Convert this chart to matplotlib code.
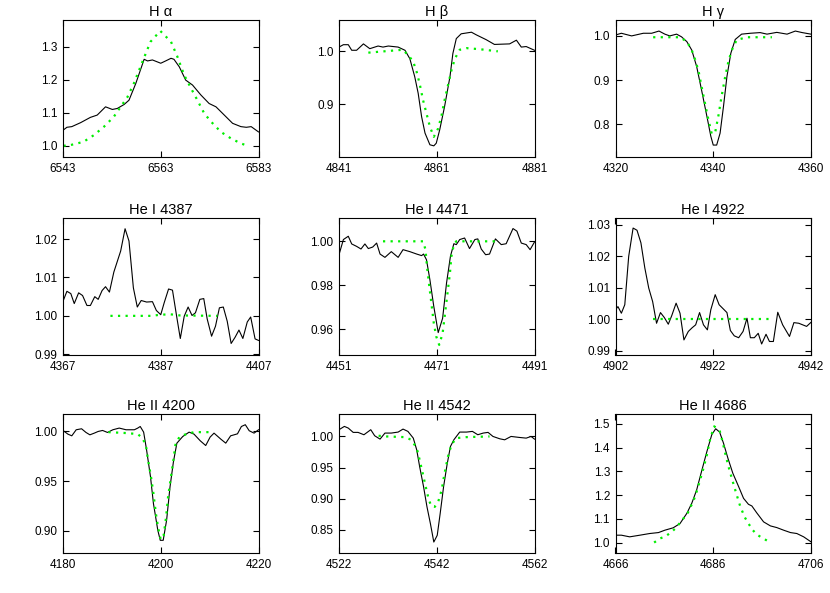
import matplotlib
matplotlib.use('Agg')
import matplotlib.pyplot as plt

plt.rcParams['font.family'] = ['Liberation Sans', 'DejaVu Sans']

ha_w = [6543.0, 6543.8, 6544.8, 6546.6, 6548.6, 6550.0, 6551.7, 6553.1, 6554.1, 6555.5, 6556.5, 6557.9,
        6559.6, 6560.3, 6561.3, 6563.0, 6564.0, 6565.1, 6565.7, 6566.8, 6568.1, 6569.5, 6571.2, 6572.9,
        6574.3, 6576.0, 6577.7, 6579.4, 6580.5, 6581.5, 6583.0]
ha_f = [1.047, 1.056, 1.058, 1.070, 1.086, 1.093, 1.118, 1.110, 1.113, 1.125, 1.138, 1.189,
        1.262, 1.257, 1.260, 1.250, 1.257, 1.265, 1.262, 1.239, 1.199, 1.184, 1.154, 1.128,
        1.118, 1.093, 1.068, 1.058, 1.056, 1.058, 1.042]
ha_mw = [6543.1, 6544.5, 6547.2, 6549.3, 6551.4, 6553.4, 6554.8, 6556.2, 6557.5, 6559.4, 6560.9, 6562.9,
         6565.1, 6566.4, 6567.8, 6569.2, 6570.5, 6571.9, 6573.3, 6575.3, 6577.4, 6579.4, 6580.8]
ha_mf = [1.0, 1.002, 1.012, 1.032, 1.058, 1.088, 1.118, 1.148, 1.189, 1.26, 1.315, 1.348,
         1.315, 1.27, 1.214, 1.174, 1.138, 1.098, 1.073, 1.042, 1.022, 1.007, 1.0]

hb_w = [4841.0, 4841.9, 4842.9, 4843.6, 4844.6, 4846.0, 4847.3, 4849.0, 4850.0, 4851.1, 4853.1, 4854.5,
        4855.5, 4856.5, 4857.2, 4857.9, 4858.6, 4859.6, 4860.4, 4860.9, 4861.6, 4862.6, 4863.7, 4864.3,
        4865.0, 4866.0, 4868.1, 4869.1, 4871.1, 4872.8, 4875.9, 4877.3, 4878.3, 4879.3, 4881.0]
hb_f = [1.008, 1.0125, 1.0125, 1.002, 1.002, 1.014, 1.005, 1.010, 1.008, 1.010, 1.008, 1.002,
        0.986, 0.952, 0.921, 0.877, 0.846, 0.824, 0.822, 0.827, 0.852, 0.896, 0.952, 0.996,
        1.024, 1.033, 1.036, 1.031, 1.022, 1.013, 1.014, 1.021, 1.008, 1.009, 1.002]
hb_mw = [4847.0, 4854.1, 4855.5, 4856.2, 4856.9, 4857.5, 4858.2, 4858.9, 4859.6, 4860.4, 4861.3, 4862.0,
         4862.6, 4863.3, 4864.0, 4864.7, 4865.7, 4867.1, 4869.8, 4873.5]
hb_mf = [0.9975, 1.003, 0.989, 0.98, 0.961, 0.939, 0.908, 0.883, 0.858, 0.839, 0.855, 0.88,
         0.908, 0.936, 0.964, 0.986, 1.003, 1.006, 1.004, 1.0]

hg_w = [4320.0, 4321.2, 4323.3, 4325.7, 4327.4, 4328.9, 4330.1, 4331.1, 4332.5, 4333.5, 4334.6, 4335.6,
        4336.6, 4337.6, 4338.7, 4339.5, 4340.0, 4340.7, 4341.4, 4342.1, 4342.8, 4343.6, 4344.5, 4345.8,
        4347.6, 4349.6, 4351.0, 4353.0, 4355.1, 4356.8, 4358.2, 4360.0]
hg_f = [1.002, 1.006, 1.0, 1.006, 1.006, 1.011, 1.004, 1.0, 1.004, 0.998, 0.987, 0.968,
        0.931, 0.878, 0.818, 0.773, 0.753, 0.753, 0.780, 0.841, 0.908, 0.961, 0.992, 1.004,
        1.006, 1.0075, 1.004, 1.008, 1.004, 1.011, 1.0075, 1.004]
hg_mw = [4327.7, 4333.2, 4334.6, 4335.6, 4336.3, 4337.0, 4337.6, 4338.3, 4339.0, 4339.7, 4340.4, 4341.1,
         4341.7, 4342.4, 4343.1, 4343.8, 4344.8, 4346.9, 4352.0]
hg_mf = [0.997, 0.997, 0.987, 0.968, 0.946, 0.92, 0.886, 0.848, 0.811, 0.778, 0.782, 0.822,
         0.863, 0.905, 0.942, 0.968, 0.991, 0.997, 0.997]

he4387_w = [4367.0, 4367.8, 4368.6, 4369.3, 4370.2, 4371.0, 4371.9, 4372.6, 4373.5, 4374.2,
            4375.0, 4375.7, 4376.5, 4377.4, 4378.8, 4379.7, 4380.5, 4381.4, 4382.2, 4383.0,
            4384.1, 4385.3, 4386.1, 4387.0, 4387.7, 4388.6, 4389.4, 4390.3, 4391.0, 4391.8,
            4392.6, 4393.4, 4394.1, 4395.0, 4395.8, 4396.5, 4397.4, 4398.2, 4399.0, 4399.8,
            4400.6, 4401.4, 4402.2, 4403.0, 4403.8, 4404.7, 4405.4, 4406.3, 4407.0]
he4387_f = [1.0038, 1.0064, 1.0058, 1.0032, 1.006, 1.0053, 1.0027, 1.0027, 1.005, 1.0043,
            1.0066, 1.0076, 1.0062, 1.0114, 1.0169, 1.0227, 1.0195, 1.0073, 1.0023, 1.004,
            1.0036, 1.0037, 1.0014, 1.0003, 1.0034, 1.007, 1.0067, 0.9995, 0.9941, 0.9999,
            1.0023, 1.0001, 1.0008, 1.0043, 1.0045, 0.9992, 0.9947, 0.9973, 1.0021, 1.0023,
            0.9986, 0.9928, 0.9944, 0.9963, 0.9941, 0.9984, 0.9997, 0.994, 0.9936]
he4387_mw = [4376.7, 4385.0, 4387.0, 4389.0, 4391.0, 4398.6]
he4387_mf = [1.0, 1.0, 1.0003, 1.0004, 1.0001, 1.0]

he4471_w = [4451.0, 4451.9, 4452.9, 4453.6, 4454.6, 4455.5, 4456.3, 4457.0, 4457.9, 4458.7,
            4459.4, 4460.4, 4461.7, 4463.1, 4464.1, 4465.5, 4466.9, 4467.9, 4468.3, 4468.9,
            4469.6, 4470.4, 4471.3, 4472.2, 4473.0, 4473.8, 4474.5, 4475.0, 4475.7, 4476.7,
            4477.7, 4478.8, 4479.4, 4480.1, 4481.0, 4481.8, 4483.0, 4484.2, 4485.2, 4486.6,
            4487.4, 4488.3, 4489.3, 4490.1, 4491.0]
he4471_f = [0.9939, 1.0008, 1.0023, 0.9988, 0.9977, 0.9965, 0.9988, 0.9967, 0.9974, 0.9992,
            0.9942, 0.9927, 0.9953, 0.9927, 0.9962, 0.9953, 0.9942, 0.9935, 0.9942, 0.9916,
            0.9825, 0.9703, 0.9585, 0.965, 0.981, 0.9932, 0.9989, 0.9985, 1.0008, 1.0015,
            0.9967, 1.0008, 1.0011, 0.9965, 0.9939, 0.9942, 1.0011, 0.9985, 0.9989, 1.0058,
            1.0046, 0.9992, 0.9985, 0.9962, 0.9997]
he4471_mw = [4460.0, 4468.2, 4468.7, 4469.0, 4469.4, 4469.9, 4470.4, 4470.9, 4471.5, 4472.2,
             4472.7, 4473.2, 4473.7, 4474.0, 4474.5, 4475.0, 4483.2]
he4471_mf = [1.0, 1.0, 0.9962, 0.9886, 0.981, 0.9719, 0.9627, 0.9567, 0.9529, 0.9582,
             0.9673, 0.9764, 0.9856, 0.9932, 0.9985, 1.0, 1.0]

he4922_w = [4902.0, 4902.5, 4903.2, 4903.9, 4904.7, 4905.6, 4906.4, 4907.2, 4908.0, 4908.8,
            4909.6, 4910.4, 4911.2, 4912.0, 4912.8, 4913.5, 4914.4, 4915.2, 4916.0, 4916.9,
            4917.7, 4918.4, 4919.2, 4920.0, 4920.8, 4921.5, 4922.4, 4923.2, 4924.1, 4924.8,
            4925.5, 4926.3, 4927.2, 4928.1, 4928.9, 4929.6, 4930.4, 4931.2, 4931.9, 4932.8,
            4933.5, 4934.3, 4935.2, 4936.2, 4937.6, 4938.5, 4939.5, 4941.1, 4942.0]
he4922_f = [1.003, 1.004, 1.0019, 1.0046, 1.02, 1.029, 1.0283, 1.0243, 1.0163, 1.0099,
            1.0056, 0.9987, 1.0021, 1.0005, 0.9984, 1.0011, 1.0051, 1.0019, 0.9934, 0.9961,
            0.9973, 0.9982, 1.0021, 0.9982, 0.9966, 1.003, 1.0078, 1.0046, 1.0032, 1.0021,
            0.9964, 0.9947, 0.9941, 0.9961, 1.0003, 0.9941, 0.9941, 0.9955, 0.9921, 0.9952,
            0.9929, 0.9929, 1.0022, 0.9982, 0.9945, 0.9989, 0.9987, 0.9977, 0.999]
he4922_mw = [4909.6, 4934.0]
he4922_mf = [1.0, 1.0]

he4200_w = [4180.0, 4181.0, 4181.8, 4182.7, 4183.8, 4184.7, 4185.5, 4186.4, 4187.2, 4188.1,
            4189.1, 4190.2, 4191.5, 4192.9, 4194.6, 4195.3, 4195.8, 4196.5, 4197.1, 4197.9,
            4198.5, 4199.4, 4199.9, 4200.5, 4201.2, 4201.9, 4202.6, 4203.3, 4204.5, 4205.8,
            4206.8, 4208.1, 4209.2, 4210.1, 4210.9, 4212.3, 4213.3, 4214.3, 4215.7, 4216.5,
            4217.3, 4218.1, 4219.1, 4220.0]
he4200_f = [1.001, 0.9973, 0.9956, 1.0017, 1.0027, 0.999, 0.9966, 0.9983, 1.0, 1.001,
            0.999, 1.0017, 1.0034, 1.0017, 1.0017, 1.0034, 1.005, 0.9993, 0.9814, 0.9544,
            0.9274, 0.9003, 0.8902, 0.8902, 0.9105, 0.9443, 0.9696, 0.9882, 0.9949, 0.9993,
            0.9973, 0.9905, 0.9858, 0.9943, 0.9983, 0.9922, 0.9882, 0.9956, 0.9976, 1.005,
            1.0068, 1.0007, 0.9983, 1.0017]
he4200_mw = [4189.3, 4193.2, 4195.3, 4196.3, 4197.0, 4197.4, 4198.0, 4198.5, 4199.0, 4199.5,
             4200.0, 4200.6, 4201.1, 4201.5, 4202.1, 4202.6, 4203.0, 4203.8, 4204.8, 4206.8, 4210.6]
he4200_mf = [0.9993, 0.9983, 0.9973, 0.9932, 0.9848, 0.9713, 0.9544, 0.9375, 0.9172, 0.902,
             0.8909, 0.8953, 0.9139, 0.9341, 0.9544, 0.9713, 0.9865, 0.9943, 0.9966, 0.9993, 0.9993]

he4542_w = [4522.0, 4523.1, 4523.9, 4524.9, 4525.9, 4527.1, 4528.5, 4529.3, 4530.4, 4531.4,
            4532.7, 4534.1, 4535.1, 4536.1, 4537.2, 4537.9, 4538.5, 4539.3, 4540.0, 4540.7,
            4541.4, 4542.1, 4542.7, 4543.4, 4544.1, 4544.8, 4545.5, 4546.7, 4548.1, 4549.3,
            4550.4, 4551.5, 4552.5, 4553.5, 4554.9, 4555.9, 4557.2, 4558.9, 4560.3, 4561.3, 4562.0]
he4542_f = [1.0108, 1.0161, 1.0134, 1.0065, 1.0065, 1.0027, 1.0108, 1.0011, 0.9957, 1.0054,
            1.0054, 1.007, 1.0118, 1.0081, 0.9973, 0.9785, 0.9516, 0.9194, 0.8871, 0.8602,
            0.8306, 0.8414, 0.8763, 0.9194, 0.9543, 0.9839, 0.9946, 1.007, 1.007, 1.0081,
            1.0027, 1.0054, 1.0065, 1.0, 0.9962, 0.9946, 1.0, 0.9984, 0.9973, 1.0, 0.9957]
he4542_mw = [4530.1, 4531.7, 4535.5, 4536.8, 4537.9, 4538.5, 4539.2, 4539.9, 4540.4, 4540.9,
             4541.6, 4542.3, 4543.0, 4543.6, 4544.3, 4545.0, 4546.0, 4548.1, 4552.8]
he4542_mf = [1.0011, 1.0, 0.9989, 0.9946, 0.9812, 0.9624, 0.9382, 0.914, 0.8978, 0.8882,
             0.8871, 0.8952, 0.914, 0.9409, 0.9677, 0.9866, 0.9973, 0.9989, 1.0]

he4686_w = [4666.0, 4667.2, 4668.9, 4671.0, 4673.0, 4674.8, 4676.1, 4677.8, 4679.2, 4680.6,
            4681.6, 4682.6, 4683.6, 4684.7, 4685.7, 4686.5, 4687.3, 4688.1, 4689.0, 4690.0,
            4691.2, 4692.2, 4693.2, 4693.9, 4694.9, 4696.3, 4697.7, 4699.0, 4700.4, 4701.8,
            4703.1, 4704.5, 4706.0]
he4686_f = [1.031, 1.031, 1.024, 1.031, 1.038, 1.042, 1.052, 1.062, 1.08, 1.123,
            1.165, 1.221, 1.299, 1.383, 1.454, 1.479, 1.465, 1.418, 1.355, 1.292,
            1.235, 1.186, 1.161, 1.154, 1.125, 1.087, 1.07, 1.063, 1.052, 1.042,
            1.038, 1.024, 1.003]
he4686_mw = [4673.9, 4675.1, 4676.3, 4677.5, 4678.6, 4679.5, 4680.6, 4681.2, 4681.9, 4682.6,
             4683.3, 4684.0, 4684.7, 4685.4, 4686.2, 4687.3, 4687.9, 4688.6, 4689.3, 4690.0,
             4690.7, 4691.5, 4692.4, 4693.2, 4694.1, 4694.9, 4695.9, 4697.1]
he4686_mf = [1.0, 1.017, 1.027, 1.045, 1.066, 1.094, 1.115, 1.144, 1.172, 1.214,
             1.263, 1.313, 1.369, 1.439, 1.489, 1.472, 1.425, 1.362, 1.306, 1.256,
             1.207, 1.154, 1.108, 1.08, 1.052, 1.034, 1.021, 1.007]

titles = ['H α', 'H β', 'H γ', 'He I 4387', 'He I 4471', 'He I 4922',
          'He II 4200', 'He II 4542', 'He II 4686']
centres = [6563, 4861, 4340, 4387, 4471, 4922, 4200, 4542, 4686]
yticks = [[1.0, 1.1, 1.2, 1.3], [0.9, 1.0], [0.8, 0.9, 1.0],
          [0.99, 1.00, 1.01, 1.02], [0.96, 0.98, 1.00], [0.99, 1.00, 1.01, 1.02, 1.03],
          [0.90, 0.95, 1.00], [0.85, 0.90, 0.95, 1.00], [1.0, 1.1, 1.2, 1.3, 1.4, 1.5]]
ylims = [(0.966, 1.381), (0.801, 1.059), (0.726, 1.036),
         (0.9898, 1.0255), (0.9483, 1.0106), (0.9886, 1.0322),
         (0.8774, 1.0176), (0.813, 1.036), (0.956, 1.541)]
yfmt = ['%.1f', '%.1f', '%.1f', '%.2f', '%.2f', '%.2f', '%.2f', '%.2f', '%.1f']

obs = [(ha_w, ha_f), (hb_w, hb_f), (hg_w, hg_f),
       (he4387_w, he4387_f), (he4471_w, he4471_f), (he4922_w, he4922_f),
       (he4200_w, he4200_f), (he4542_w, he4542_f), (he4686_w, he4686_f)]
model = [(ha_mw, ha_mf), (hb_mw, hb_mf), (hg_mw, hg_mf),
         (he4387_mw, he4387_mf), (he4471_mw, he4471_mf), (he4922_mw, he4922_mf),
         (he4200_mw, he4200_mf), (he4542_mw, he4542_mf), (he4686_mw, he4686_mf)]

# %% layout in pixels (830 x 593)
W, H = 830, 593
col_left = [63, 339, 615.5]
row_top = [20, 218, 414]
row_h = [137, 137, 139]
ax_w = 195.5

fig = plt.figure(figsize=(W / 100, H / 100), dpi=100)
for i in range(9):
    r, c = divmod(i, 3)
    ax = fig.add_axes([col_left[c] / W, 1 - (row_top[r] + row_h[r]) / H, ax_w / W, row_h[r] / H])
    ax.plot(obs[i][0], obs[i][1], color='k', lw=0.8)
    ax.plot(model[i][0], model[i][1], color='#00ee00', lw=1.6,
            linestyle=(0, (1, 2.4)), dash_capstyle='butt')
    c0 = centres[i]
    ax.set_xlim(c0 - 20, c0 + 20)
    ax.set_ylim(*ylims[i])
    ax.set_xticks([c0 - 20, c0, c0 + 20])
    ax.set_xticklabels([str(c0 - 20), str(c0), str(c0 + 20)])
    ax.set_yticks(yticks[i])
    ax.set_yticklabels([yfmt[i] % v for v in yticks[i]])
    ax.tick_params(direction='in', top=True, right=True, length=4, width=0.8,
                   labelsize=8.5, pad=4)
    for s in ax.spines.values():
        s.set_linewidth(0.8)
    ax.set_title(titles[i], fontsize=10.5, pad=3)

fig.savefig('out.png', dpi=100)
